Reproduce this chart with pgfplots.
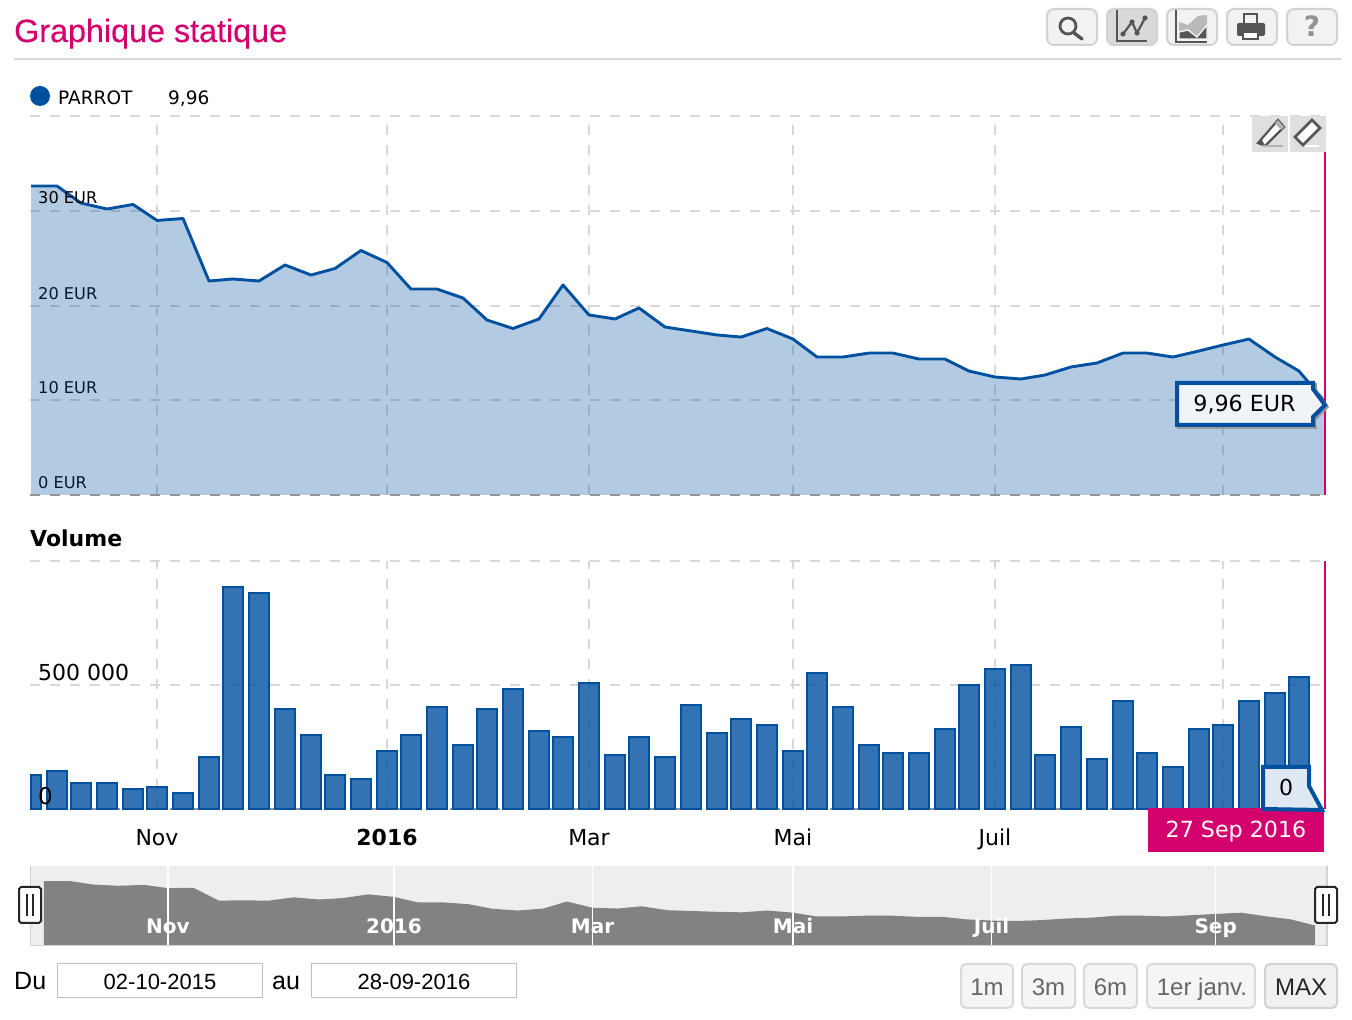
\documentclass[border=0pt]{standalone}
\usepackage{fontspec}
\setmainfont{DejaVu Sans}
\newfontfamily\lib{Liberation Sans}
\newfontfamily\titlef[FakeBold=0.35]{Liberation Sans}
\usepackage{pgfplots}
\usepackage{pgfplotstable}
\pgfplotsset{compat=1.18}
\definecolor{blu}{RGB}{0,80,160}
\definecolor{mag}{RGB}{212,0,110}
\definecolor{gridc}{RGB}{216,216,216}
\definecolor{ico}{RGB}{85,85,85}
\newcommand{\fs}[1]{\fontsize{#1pt}{#1pt}\selectfont}
\pgfplotstableread{
x p
31 32.63
57 32.63
81 30.83
107 30.20
133 30.68
157 28.99
183 29.20
209 22.60
233 22.81
259 22.60
285 24.29
311 23.23
335 23.92
361 25.82
387 24.55
411 21.75
437 21.75
463 20.80
487 18.48
513 17.58
539 18.59
563 22.18
589 19.01
615 18.59
639 19.75
665 17.74
691 17.32
717 16.90
741 16.68
767 17.58
793 16.47
817 14.57
843 14.57
869 14.99
893 14.99
919 14.36
945 14.36
969 13.09
995 12.46
1021 12.25
1045 12.67
1071 13.52
1097 13.94
1123 14.99
1147 14.99
1173 14.57
1199 15.21
1223 15.84
1249 16.47
1275 14.57
1299 13.09
1324 9.96
}\price
\pgfplotstableread{
x v
57 153000
81 105000
107 105000
133 81000
157 89000
183 65000
209 210000
233 895000
259 871000
285 403000
311 298000
335 137000
361 121000
387 234000
411 298000
437 411000
463 258000
487 403000
513 484000
539 314000
563 290000
589 508000
615 218000
639 290000
665 210000
691 419000
717 306000
741 363000
767 339000
793 234000
817 548000
843 411000
869 258000
893 226000
919 226000
945 323000
969 500000
995 565000
1021 581000
1045 218000
1071 331000
1097 202000
1123 435000
1147 226000
1173 169000
1199 323000
1223 339000
1249 435000
1275 468000
1299 532000
}\volume
\pgfplotsset{
  base/.style={
    scale only axis, anchor=south west, clip=false,
    xmin=30, xmax=1324,
    xtick={157,387,589,793,995,1223},
    scaled x ticks=false, scaled y ticks=false,
    axis line style={draw=none}, tick style={draw=none},
    major tick length=0pt,
    grid=major,
    grid style={draw=gridc, line width=2pt, dash pattern=on 10pt off 10pt},
  }
}
\begin{document}
\begin{tikzpicture}
\path[use as bounding box] (0pt,0pt) rectangle (1352pt,1020pt);
% navigator background
\begin{scope}[x=1pt,y=-1pt,yshift=1020pt]
\fill[gray!13] (30,866) rectangle (1327,945);
\draw[gray!35,line width=1.5pt] (30.5,866)--(30.5,945.5)--(1327,945.5)--(1327,866);
\end{scope}
% price
\begin{axis}[base, at={(30pt,525pt)}, width=1294pt, height=380pt,
  ymin=0, ymax=40.13, ytick={0,10,20,30,40},
  yticklabels={0 EUR,10 EUR,20 EUR,{},{}},
  xticklabels={},
  yticklabel style={anchor=west, inner sep=0pt, xshift=8pt, yshift=12.5pt, font=\fs{16.2}},
]
\addplot[draw=none, fill=blu, fill opacity=.3] table[x=x,y=p]{\price} \closedcycle;
\addplot[draw=gray!85, line width=2pt, dash pattern=on 10pt off 10pt] coordinates {(30,0)(1324,0)};
\addplot[blu, line width=2.9pt, line join=round] table[x=x,y=p]{\price};
\end{axis}
% volume
\begin{axis}[base, at={(30pt,211pt)}, width=1294pt, height=248pt,
  ymin=0, ymax=1000000, ytick={0,500000,1000000},
  yticklabels={{},500 000,{}},
  xticklabels={Nov,\textbf{2016},Mar,Mai,Juil,{}},
  yticklabel style={anchor=west, inner sep=0pt, xshift=8pt, yshift=13pt, font=\fs{22}},
  xticklabel style={anchor=base, inner sep=0pt, yshift=-37pt, font=\fs{22}},
]
\addplot[draw=gray!85, line width=2pt, dash pattern=on 10pt off 10pt] coordinates {(30,0)(1324,0)};
\addplot[ybar, bar width=10pt, bar shift=0pt, draw=blu, line width=2pt, fill=blu, fill opacity=.8, draw opacity=1] coordinates {(36,137000)};
\addplot[ybar, bar width=20pt, bar shift=0pt, draw=blu, line width=2pt, fill=blu, fill opacity=.8, draw opacity=1] table[x=x,y=v]{\volume};
\end{axis}
% navigator
\begin{axis}[base, at={(43pt,75pt)}, width=1272pt, height=79pt,
  ymin=0, ymax=40.3, ytick=\empty, axis on top,
  xticklabels={Nov,2016,Mar,Mai,Juil,Sep},
  xticklabel style={anchor=base, inner sep=0pt, yshift=11pt, text=white, font=\fs{20}\bfseries},
  grid style={draw=white, line width=1.5pt, solid},
]
\addplot[draw=none, fill=gray!98] table[x=x,y=p]{\price} \closedcycle;
\end{axis}
\begin{scope}[x=1pt,y=-1pt,yshift=1020pt]
% labels lying over the plots
\node[anchor=base west,inner sep=0pt] at (38,204) {\fs{16.2}30 EUR};
\node[anchor=base west,inner sep=0pt] at (38,804.5) {\fs{23}0};
% header
\node[anchor=base west, inner sep=0pt, text=mag] at (14,42) {\titlef\fs{32.3}Graphique statique};
\draw[gray!30,line width=2pt] (14,59)--(1342,59);
% toolbar
\foreach \a/\f in {1047/gray!10,1107/gray!30,1167/gray!10,1227/gray!10,1287/gray!10}
  \draw[gray!35,line width=2pt,fill=\f,rounded corners=7pt] (\a,9) rectangle ++(50,36);
\draw[ico,line width=2.8pt] (1068,26) circle (8);
\draw[ico,line width=3.4pt,line cap=round] (1074,33)--(1082,39);
\draw[ico,line width=2.6pt] (1117,10)--(1117,41)--(1147,41);
\draw[ico,line width=2.2pt] (1123,34)--(1132,22)--(1137,33)--(1145,18);
\foreach \p in {(1123,34),(1132,22),(1137,33),(1145,18)} \fill[ico] \p circle (2.6);
\draw[ico,line width=1.4pt] (1176,10)--(1176,42)--(1207,42);
\fill[gray!55] (1179,22)--(1188,25)--(1198,16)--(1207,15)--(1207,39)--(1179,39)--cycle;
\draw[gray!10,line width=1.4pt,fill=ico] (1179,32)--(1188,30)--(1197,37)--(1207,25)--(1207,39)--(1179,39)--cycle;
\fill[ico,rounded corners=2pt] (1237,23) rectangle (1265,36);
\fill[ico] (1243,13) rectangle (1258,25);
\fill[gray!10] (1245,15) rectangle (1256,23);
\draw[ico,line width=2pt,fill=white] (1243,32) rectangle (1258,39);
\node[inner sep=0pt,text=gray!85] at (1312,26) {\fs{28}\bfseries ?};
% legend
\fill[blu] (40,96) circle (10);
\node[anchor=base west,inner sep=0pt] at (58,105) {\fs{18.5}PARROT};
\node[anchor=base west,inner sep=0pt] at (168,105) {\fs{18.5}9,96};
\node[anchor=base west,inner sep=0pt] at (30,547) {\fs{22}\bfseries Volume};
% magenta cursor
\draw[mag,line width=2pt] (1325,152)--(1325,495);
\draw[mag,line width=2pt] (1325,561)--(1325,809);
% draw tools
\fill[gray!25] (1252,116) rectangle (1288,152);
\fill[gray!25] (1290,116) rectangle (1326,152);
\draw[ico,line width=2.2pt,fill=white] (1258,143)--(1278,120)--(1284,127)--(1265,146)--cycle;
\fill[ico] (1258,143)--(1261,138)--(1265,146)--cycle;
\fill[gray!60] (1275,123)--(1278,120)--(1284,127)--(1281,130)--cycle;
\draw[gray!60,line width=1.6pt] (1262,146)--(1283,146);
\draw[ico,line width=2.6pt,fill=white] (1295,137)--(1312,120)--(1320,128)--(1303,145)--cycle;
\draw[white,line width=1.6pt] (1305,146)--(1319,146);
% price tooltip
\fill[gray!80] (1177,383)--(1317,383)--(1317,390)--(1329,407)--(1316,420)--(1317,429)--(1177,429)--cycle;
\draw[blu,line width=4pt,fill=blu!6!white,miter limit=2] (1177,383)--(1313,383)--(1313,389)--(1325,405)--(1313,417)--(1313,425)--(1177,425)--cycle;
\node[anchor=base,inner sep=0pt] at (1244.5,412) {\fs{22.2}9,96 EUR};
% date label
\fill[mag] (1148,808) rectangle (1324,852);
\node[anchor=base,inner sep=0pt,text=white] at (1236,838) {\fs{22.2}27 Sep 2016};
% volume tooltip
\draw[blu,line width=4pt,fill=blu!13!white,miter limit=2] (1263,767)--(1309,767)--(1309,786)--(1322,810)--(1263,809)--cycle;
\node[anchor=base,inner sep=0pt] at (1286,796) {\fs{22}0};
% navigator handles
\foreach \a in {18,1314} {
  \draw[black!85,line width=2pt,fill=white] (\a+3,887)--(\a+21,887)--(\a+23,889)--(\a+23,921)--(\a+21,923)--(\a+3,923)--(\a+1,921)--(\a+1,889)--cycle;
  \draw[black!85,line width=2pt] (\a+9,894)--(\a+9,916) (\a+15,894)--(\a+15,916);
}
% date inputs
\node[anchor=base west,inner sep=0pt] at (14,990) {\lib\fs{25}Du};
\draw[gray!50,line width=1pt] (57.5,963.5) rectangle (262.5,998);
\node[anchor=base,inner sep=0pt] at (160,990) {\lib\fs{22}02-10-2015};
\node[anchor=base west,inner sep=0pt] at (272,990) {\lib\fs{25}au};
\draw[gray!50,line width=1pt] (311.5,963.5) rectangle (516.5,998);
\node[anchor=base,inner sep=0pt] at (414,990) {\lib\fs{22}28-09-2016};
% range buttons
\foreach \a/\b in {961/1013,1022/1075,1084/1137,1147/1255}
  \draw[gray!30,line width=2pt,fill=gray!8,rounded corners=5pt] (\a,964) rectangle (\b,1008);
\foreach \xx/\t in {987/1m,1048.5/3m,1110.5/6m,1202/1er janv.}
  \node[anchor=base,inner sep=0pt,text=black!60] at (\xx,996) {\lib\fs{24}\t};
\draw[gray!35,line width=2pt,fill=gray!12,rounded corners=5pt] (1265,964) rectangle (1337,1008);
\node[anchor=base,inner sep=0pt,text=black!85] at (1301,996) {\lib\fs{24}MAX};
\end{scope}
\end{tikzpicture}
\end{document}
